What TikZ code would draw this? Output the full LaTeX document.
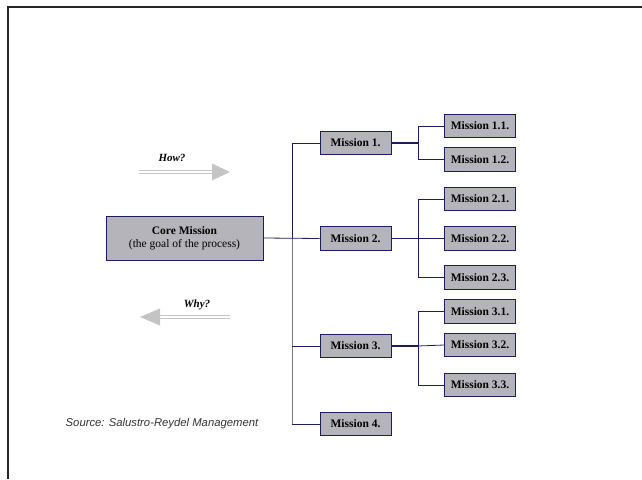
\documentclass[tikz,border=0pt]{standalone}
\usepackage{fontspec}
\setmainfont{Liberation Serif}
\setsansfont{Liberation Sans}
\usetikzlibrary{positioning}

\definecolor{boxgray}{RGB}{180,180,186}
\definecolor{navy}{RGB}{28,28,92}
\definecolor{trunkgray}{RGB}{120,120,124}
\definecolor{arrowgray}{RGB}{196,196,196}

\tikzset{
  mission/.style={draw=navy, line width=0.9pt, fill=boxgray, minimum width=71pt,
    minimum height=23.5pt, inner sep=0pt, font=\bfseries\fontsize{11.5}{13}\selectfont},
  link/.style={draw=navy, line width=0.8pt},
  stem/.style={draw=navy, line width=1.8pt},
  bigarrow/.style={draw=arrowgray, line width=1.8pt, double=white, double distance=1.2pt},
}

\begin{document}
\begin{tikzpicture}[x=1pt, y=-1pt]
  \useasboundingbox (0,0) rectangle (642,479);

  % 页面边框（只见左边和上边）
  \draw[line width=1.1pt, black!85] (8,479) -- (8,7) -- (642,7);

  % 核心任务
  \node[mission, minimum width=157pt, minimum height=44pt, align=center] (core) at (184.5,238)
    {Core Mission\\[0.5pt]{\mdseries (the goal of the process)}};

  % 第一层
  \node[mission] (m1) at (355.5,143) {Mission 1.};
  \node[mission] (m2) at (355.5,238.5) {Mission 2.};
  \node[mission] (m3) at (355.5,346) {Mission 3.};
  \node[mission] (m4) at (355.5,424) {Mission 4.};

  % 第二层
  \node[mission] (m11) at (480,126) {Mission 1.1.};
  \node[mission] (m12) at (480,159.5) {Mission 1.2.};
  \node[mission] (m21) at (480,199) {Mission 2.1.};
  \node[mission] (m22) at (480,238.5) {Mission 2.2.};
  \node[mission] (m23) at (480,277.5) {Mission 2.3.};
  \node[mission] (m31) at (480,311.5) {Mission 3.1.};
  \node[mission] (m32) at (480,345) {Mission 3.2.};
  \node[mission] (m33) at (480,385) {Mission 3.3.};

  % 主干
  \coordinate (trunk) at (292,0);
  \draw[link] (m1.west) -- (m1.west -| trunk) -- (core.east -| trunk);
  \draw[link, draw=trunkgray] (core.east -| trunk) -- (m4.west -| trunk);
  \draw[link] (core.east) -- (m2.west);
  \draw[link] (m3.west -| trunk) -- (m3.west);
  \draw[link] (m4.west -| trunk) -- (m4.west);

  % 分支
  \coordinate (branch) at (418,0);
  \draw[stem] (m1.east) -- (m1.east -| branch);
  \draw[link] (m11.west) -- (m11.west -| branch) -- (m12.west -| branch) -- (m12.west);

  \draw[stem] (m2.east) -- (m2.east -| branch);
  \draw[link] (m21.west) -- (m21.west -| branch) -- (m23.west -| branch) -- (m23.west);
  \draw[link] (m2.east -| branch) -- (m22.west);

  \draw[stem] (m3.east) -- (m3.east -| branch);
  \draw[link] (m31.west) -- (m31.west -| branch) -- (m33.west -| branch) -- (m33.west);
  \draw[link] (m3.east -| branch) -- (m32.west);

  % How? / Why? 箭头
  \coordinate (howtail) at (139,172);
  \coordinate (howtip) at (230,172);
  \draw[bigarrow] (howtail) -- (213,172);
  \fill[arrowgray] (212,163.5) -- (howtip) -- (212,180.5) -- cycle;
  \node[font=\bfseries\itshape\fontsize{11}{13}\selectfont] (how) at (172,158) {How?};

  \coordinate (whytail) at (230,317);
  \coordinate (whytip) at (140,317);
  \draw[bigarrow] (whytail) -- (159,317);
  \fill[arrowgray] (160,308.5) -- (whytip) -- (160,325.5) -- cycle;
  \node[font=\bfseries\itshape\fontsize{11}{13}\selectfont] (why) at (197,305) {Why?};

  % 来源
  \node[font=\sffamily\itshape\fontsize{11.3}{13}\selectfont, text=black!80] (source) at (162,424)
    {Source: Salustro-Reydel Management};
\end{tikzpicture}
\end{document}
